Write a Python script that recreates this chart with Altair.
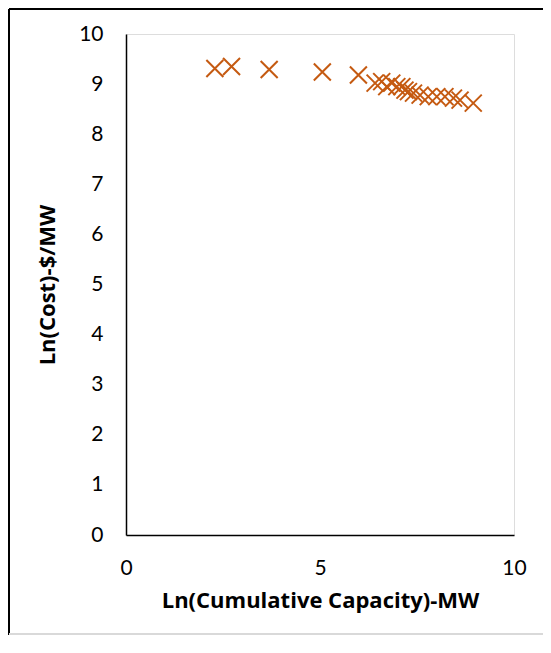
import altair as alt
import pandas as pd

ln_capacity = [2.29, 2.72, 3.69, 5.06, 5.99, 6.42, 6.59, 6.72, 6.85, 6.98, 7.11, 7.19, 7.28, 7.41, 7.58, 7.79, 8.01, 8.22, 8.44, 8.61, 8.95]
ln_cost = [9.31, 9.35, 9.29, 9.24, 9.18, 9.02, 9.05, 8.95, 9.02, 8.95, 8.95, 8.88, 8.85, 8.82, 8.78, 8.75, 8.75, 8.75, 8.72, 8.68, 8.62]

x_ticks = [0, 5, 10]
y_ticks = list(range(0, 11))

df = pd.DataFrame({"x": ln_capacity, "y": ln_cost})

W, H = 388, 501
LFONT = "Lato"
TFONT = "Open Sans"

points = alt.Chart(df).mark_point(
    shape="M-1,-1L1,1M-1,1L1,-1",
    size=289,
    filled=False,
    strokeWidth=2,
    color="#C55A11",
    opacity=1,
).encode(
    x=alt.X("x:Q", scale=alt.Scale(domain=[0, 10], nice=False),
            axis=alt.Axis(values=x_ticks, title="Ln(Cumulative Capacity)-MW", grid=False,
                          ticks=False, domainColor="black", domainWidth=1.5, labelFlush=False,
                          labelFont=LFONT, labelFontSize=21, labelColor="black", labelPadding=22,
                          titleFont=TFONT, titleFontSize=22, titleFontWeight="bold", titleColor="black",
                          titlePadding=12)),
    y=alt.Y("y:Q", scale=alt.Scale(domain=[0, 10], nice=False),
            axis=alt.Axis(values=y_ticks, title="Ln(Cost)-$/MW", grid=False,
                          ticks=False, domainColor="black", domainWidth=1.5, labelFlush=False,
                          labelFont=LFONT, labelFontSize=21, labelColor="black", labelPadding=23,
                          titleFont=TFONT, titleFontSize=22, titleFontWeight="bold", titleColor="black",
                          titlePadding=19)),
)

frame_left = alt.Chart(df).mark_rule(color="black", strokeWidth=2).encode(
    x=alt.value(-117), y=alt.value(-25), y2=alt.value(H + 100)
)
frame_top = alt.Chart(df).mark_rule(color="black", strokeWidth=2).encode(
    x=alt.value(-117), x2=alt.value(W + 29), y=alt.value(-25)
)
frame_bottom = alt.Chart(df).mark_rule(color="#d9d9d9", strokeWidth=1.5).encode(
    x=alt.value(-117), x2=alt.value(W + 29), y=alt.value(H + 99)
)

chart = alt.layer(frame_left, frame_top, frame_bottom, points).properties(
    width=W, height=H,
    autosize=alt.AutoSizeParams(type="none"),
    padding={"left": 118, "top": 26, "right": 29, "bottom": 100},
).configure_view(stroke=None).configure(background="white")

chart.save("out.html", embed_options={"renderer": "svg", "actions": False})
